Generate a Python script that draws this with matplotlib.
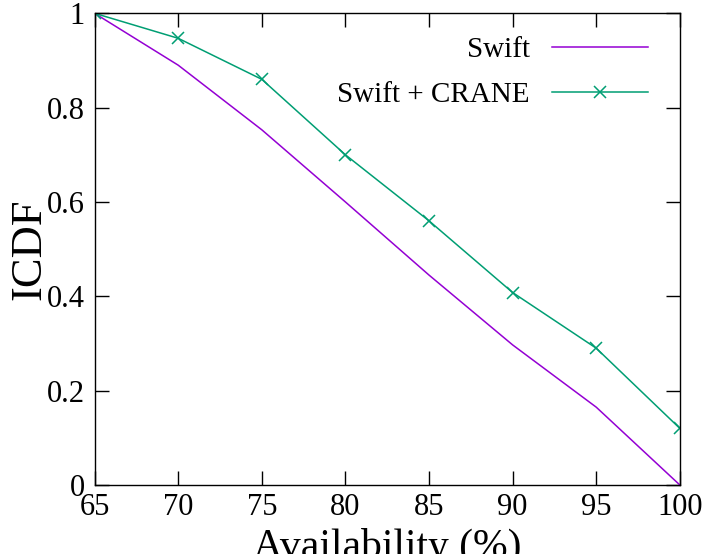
import matplotlib
matplotlib.use("Agg")
from matplotlib import pyplot as plt

# availability (%) on x, ICDF on y
availability = [65, 70, 75, 80, 85, 90, 95, 100]
swift = [1.0, 0.89, 0.753, 0.60, 0.445, 0.297, 0.165, 0.0]
swift_crane = [1.0, 0.947, 0.86, 0.70, 0.56, 0.408, 0.29, 0.12]
xticks = [65, 70, 75, 80, 85, 90, 95, 100]
yticks = [0, 0.2, 0.4, 0.6, 0.8, 1]
ytick_labels = ["0", "0.2", "0.4", "0.6", "0.8", "1"]

plt.rcParams["font.family"] = ["Liberation Serif", "DejaVu Serif"]

fig = plt.figure(figsize=(7.06, 5.54), dpi=100)
ax = fig.add_axes([0.134, 0.1245, 0.829, 0.8515])

ax.plot(availability, swift, color="#9400D3", lw=1.1, label="Swift")
ax.plot(availability, swift_crane, color="#009E73", lw=1.1, marker="x",
        markersize=9, markeredgewidth=1.1, label="Swift + CRANE")

ax.set_xlim(65, 100)
ax.set_ylim(0, 1)
ax.set_xticks(xticks)
ax.set_yticks(yticks)
ax.set_yticklabels(ytick_labels)
ax.tick_params(direction="in", length=10, width=1, top=True, right=True,
               labelsize=22)
ax.tick_params(axis="x", pad=6)
ax.tick_params(axis="y", pad=7)
for sp in ax.spines.values():
    sp.set_linewidth(1)

ax.set_xlabel("Availability (%)", fontsize=30, labelpad=4)
ax.set_ylabel("ICDF", fontsize=32, labelpad=-2)

ax.legend(loc="upper right", frameon=False, markerfirst=False, fontsize=21,
          handlelength=3.3, handletextpad=0.75, labelspacing=0.65,
          borderaxespad=0.4, bbox_to_anchor=(0.985, 1.0))

fig.savefig("out.png", dpi=100)
